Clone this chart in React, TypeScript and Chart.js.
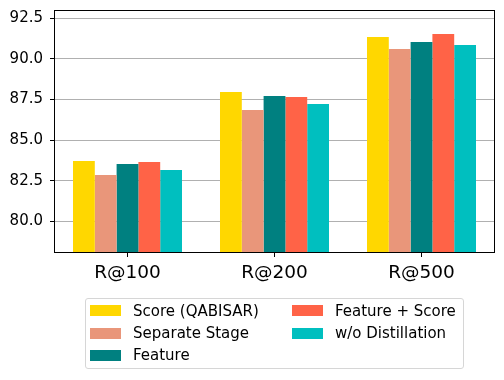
import React, { useEffect, useRef } from "react";
import { Chart, registerables } from "chart.js";

Chart.register(...registerables);

const categories = ["R@100", "R@200", "R@500"];
const seriesLabels = ["Score (QABISAR)", "Separate Stage", "Feature", "Feature + Score", "w/o Distillation"];
const scoreQabisar = [83.71, 87.96, 91.34];
const separateStage = [82.85, 86.85, 90.6];
const featureOnly = [83.53, 87.71, 91.03];
const featurePlusScore = [83.65, 87.65, 91.52];
const woDistillation = [83.16, 87.22, 90.85];
const yTicks = [80, 82.5, 85, 87.5, 90, 92.5];
const yMin = 78.05;
const yMax = 93.0;

const seriesValues = [scoreQabisar, separateStage, featureOnly, featurePlusScore, woDistillation];
const colors = ["#FFD700", "#E9967A", "#008080", "#FF6347", "#00BFBF"];

const FONT = "'DejaVu Sans', sans-serif";

// legend layout: matplotlib ncol=2 column-major
const legendSlots = [
  { col: 0, row: 0 },
  { col: 0, row: 1 },
  { col: 0, row: 2 },
  { col: 1, row: 0 },
  { col: 1, row: 1 },
];
const colX = [90, 292];
const rowY = [310.7, 333.2, 355.3];

const framePlugin = {
  id: "frame",
  afterDraw(chart: any) {
    const { ctx, chartArea } = chart;
    ctx.save();
    ctx.strokeStyle = "#000";
    ctx.lineWidth = 1;
    ctx.strokeRect(
      Math.round(chartArea.left) + 0.5,
      Math.round(chartArea.top) + 0.5,
      Math.round(chartArea.right - chartArea.left) - 1,
      Math.round(chartArea.bottom - chartArea.top) - 1
    );
    ctx.restore();
  },
};

export default function App() {
  const canvasRef = useRef<HTMLCanvasElement>(null);

  useEffect(() => {
    if (!canvasRef.current) return;
    const chart = new Chart(canvasRef.current, {
      type: "bar",
      data: {
        labels: categories,
        datasets: seriesValues.map((vals, i) => ({
          label: seriesLabels[i],
          data: vals,
          backgroundColor: colors[i],
          borderWidth: 0,
          categoryPercentage: 0.7415,
          barPercentage: 1.0,
        })),
      },
      options: {
        responsive: false,
        animation: false,
        layout: { padding: { top: 10, right: 9, left: 0, bottom: 0 } },
        plugins: {
          legend: { display: false },
          tooltip: { enabled: false },
        },
        scales: {
          x: {
            offset: true,
            border: { display: false },
            grid: {
              offset: false,
              drawOnChartArea: false,
              drawTicks: true,
              tickLength: 4,
              tickColor: "#000",
              tickWidth: 1,
            },
            ticks: {
              color: "#000",
              font: { family: FONT, size: 18.5 },
              padding: 5,
              maxRotation: 0,
            },
            afterFit(scale: any) {
              scale.height = 127;
              scale.paddingLeft = 0;
              scale.paddingRight = 0;
            },
          },
          y: {
            min: yMin,
            max: yMax,
            z: 1,
            border: { display: false },
            grid: {
              color: "#b0b0b0",
              lineWidth: 1,
              tickLength: 4,
              tickColor: "#000",
              tickWidth: 1,
            },
            ticks: {
              color: "#000",
              font: { family: FONT, size: 15 },
              padding: 7,
              callback: (v: any) => Number(v).toFixed(1),
            },
            afterBuildTicks(scale: any) {
              scale.ticks = yTicks.map((v) => ({ value: v }));
            },
            afterFit(scale: any) {
              scale.width = 54;
              scale.paddingTop = 0;
              scale.paddingBottom = 0;
            },
          },
        },
      },
      plugins: [framePlugin],
    });
    return () => chart.destroy();
  }, []);

  return (
    <div style={{ position: "fixed", left: 0, top: 0, width: 504, height: 380, background: "#fff" }}>
      <canvas ref={canvasRef} width={504} height={380} style={{ display: "block" }} />
      <div
        style={{
          position: "absolute",
          left: 85,
          top: 298,
          width: 379,
          height: 71,
          boxSizing: "border-box",
          border: "1px solid #d6d6d6",
          borderRadius: 3,
          background: "rgba(255,255,255,0.8)",
        }}
      />
      {seriesLabels.map((lab, i) => {
        const s = legendSlots[i];
        return (
          <div
            key={lab}
            style={{
              position: "absolute",
              left: colX[s.col],
              top: rowY[s.row] - 11,
              height: 22,
              display: "flex",
              alignItems: "center",
              fontFamily: FONT,
              fontSize: 15,
              color: "#000",
              whiteSpace: "nowrap",
            }}
          >
            <span
              style={{
                display: "inline-block",
                width: 31,
                height: 10.7,
                background: colors[i],
                marginRight: 12,
              }}
            />
            <span>{lab}</span>
          </div>
        );
      })}
    </div>
  );
}
